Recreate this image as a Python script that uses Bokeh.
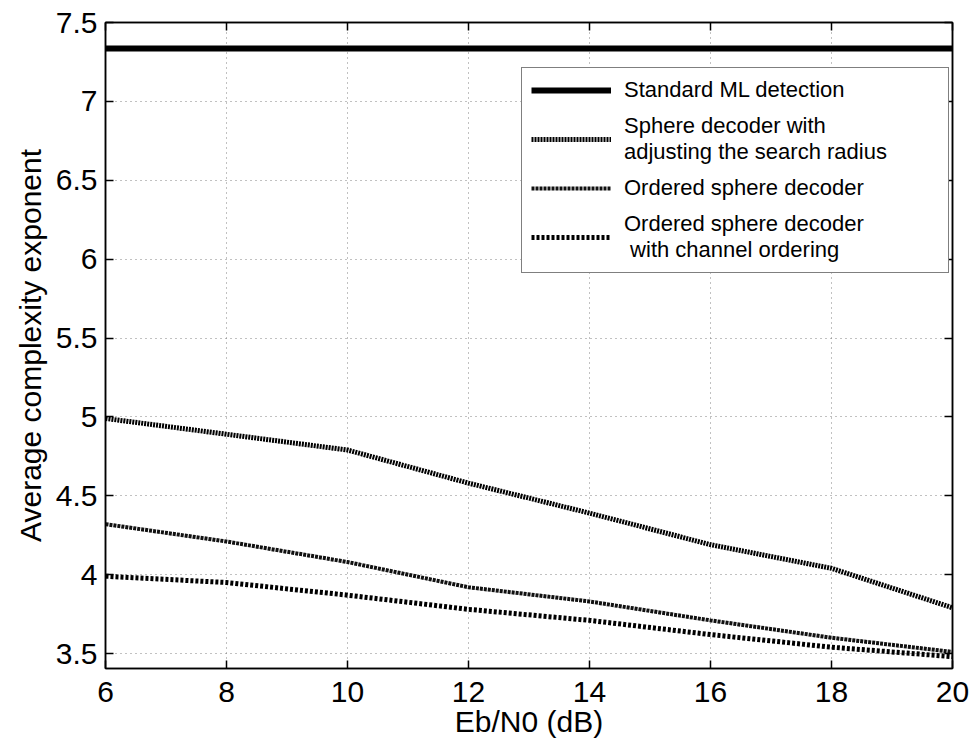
from bokeh.plotting import figure
from bokeh.models import (Range1d, FixedTicker, NumeralTickFormatter, LinearAxis, Legend,
                          LegendItem, CustomJSTickFormatter)
from bokeh.embed import file_html
from bokeh.resources import INLINE

snr = [6, 8, 10, 12, 14, 16, 18, 20]
ml = [7.335, 7.335, 7.335, 7.335, 7.335, 7.335, 7.335, 7.335]
sd_adjust = [4.99, 4.89, 4.79, 4.58, 4.39, 4.19, 4.04, 3.79]
osd = [4.32, 4.21, 4.08, 3.92, 3.83, 3.71, 3.60, 3.51]
osd_channel = [3.99, 3.95, 3.87, 3.78, 3.71, 3.62, 3.54, 3.48]

labels = ["Standard ML detection",
          "Sphere decoder with\nadjusting the search radius",
          "Ordered sphere decoder",
          "Ordered sphere decoder\n with channel ordering"]

xt = [6, 8, 10, 12, 14, 16, 18, 20]
yt = [3.5, 4, 4.5, 5, 5.5, 6, 6.5, 7, 7.5]

FONT = "Liberation Sans"

p = figure(width=975, height=753, output_backend="svg", toolbar_location=None,
           x_range=Range1d(6, 20), y_range=Range1d(3.405, 7.5),
           min_border_left=105, min_border_right=23, min_border_top=22, min_border_bottom=85)
p.background_fill_color = "white"
p.border_fill_color = "white"
p.outline_line_color = "black"
p.outline_line_width = 1.5

for ax in p.xaxis:
    ax.ticker = FixedTicker(ticks=xt)
for ax in p.yaxis:
    ax.ticker = FixedTicker(ticks=yt)
    ax.formatter = NumeralTickFormatter(format="0.[0]")

for ax in list(p.xaxis) + list(p.yaxis):
    ax.major_tick_in = 8
    ax.major_tick_out = 0
    ax.minor_tick_line_color = None
    ax.axis_line_color = "black"
    ax.axis_line_width = 1.5
    ax.major_tick_line_color = "black"
    ax.major_tick_line_width = 1.5
    ax.major_label_text_font = FONT
    ax.major_label_text_font_size = "30px"
    ax.major_label_text_color = "black"
    ax.axis_label_text_font = FONT
    ax.axis_label_text_font_size = "30px"
    ax.axis_label_text_font_style = "normal"
    ax.axis_label_text_color = "black"

p.xaxis.axis_label = "Eb/N0 (dB)"
p.yaxis.axis_label = "Average complexity exponent"
p.xaxis.major_label_standoff = 13
p.yaxis.major_label_standoff = 8
p.xaxis.axis_label_standoff = 0
p.yaxis.axis_label_standoff = 6

blank = CustomJSTickFormatter(code="return ''")
right = LinearAxis(ticker=FixedTicker(ticks=yt), formatter=blank,
                   major_tick_in=8, major_tick_out=0, minor_tick_line_color=None,
                   major_tick_line_width=1.5, axis_line_color="black", axis_line_width=1.5)
top = LinearAxis(ticker=FixedTicker(ticks=xt), formatter=blank,
                 major_tick_in=8, major_tick_out=0, minor_tick_line_color=None,
                 major_tick_line_width=1.5, axis_line_color="black", axis_line_width=1.5)
p.add_layout(right, "right")
p.add_layout(top, "above")

p.xgrid.ticker = FixedTicker(ticks=xt)
p.ygrid.ticker = FixedTicker(ticks=yt)
for g in (p.xgrid, p.ygrid):
    g.grid_line_color = "#777777"
    g.grid_line_dash = "1 4"
    g.grid_line_width = 1
    g.grid_line_alpha = 0.9

r1 = p.line(snr, ml, line_color="black", line_width=6)
r2 = p.line(snr, sd_adjust, line_color="black", line_width=5, line_dash="2 1")
r3 = p.line(snr, osd, line_color="#111111", line_width=4, line_dash="3 1")
r4 = p.line(snr, osd_channel, line_color="black", line_width=5, line_dash="3 2")

legend = Legend(items=[LegendItem(label=labels[0], renderers=[r1]),
                       LegendItem(label=labels[1], renderers=[r2]),
                       LegendItem(label=labels[2], renderers=[r3]),
                       LegendItem(label=labels[3], renderers=[r4])],
                location=(416, 395))
legend.label_text_font = FONT
legend.label_text_font_size = "22px"
legend.label_text_color = "black"
legend.label_text_line_height = 1.15
legend.label_width = 315
legend.label_standoff = 13
legend.glyph_width = 80
legend.glyph_height = 22
legend.spacing = 10
legend.padding = 9
legend.margin = 0
legend.border_line_color = "black"
legend.border_line_width = 1.5
legend.background_fill_alpha = 1.0
p.add_layout(legend, "center")

open("out.html", "w").write(file_html(p, INLINE))
